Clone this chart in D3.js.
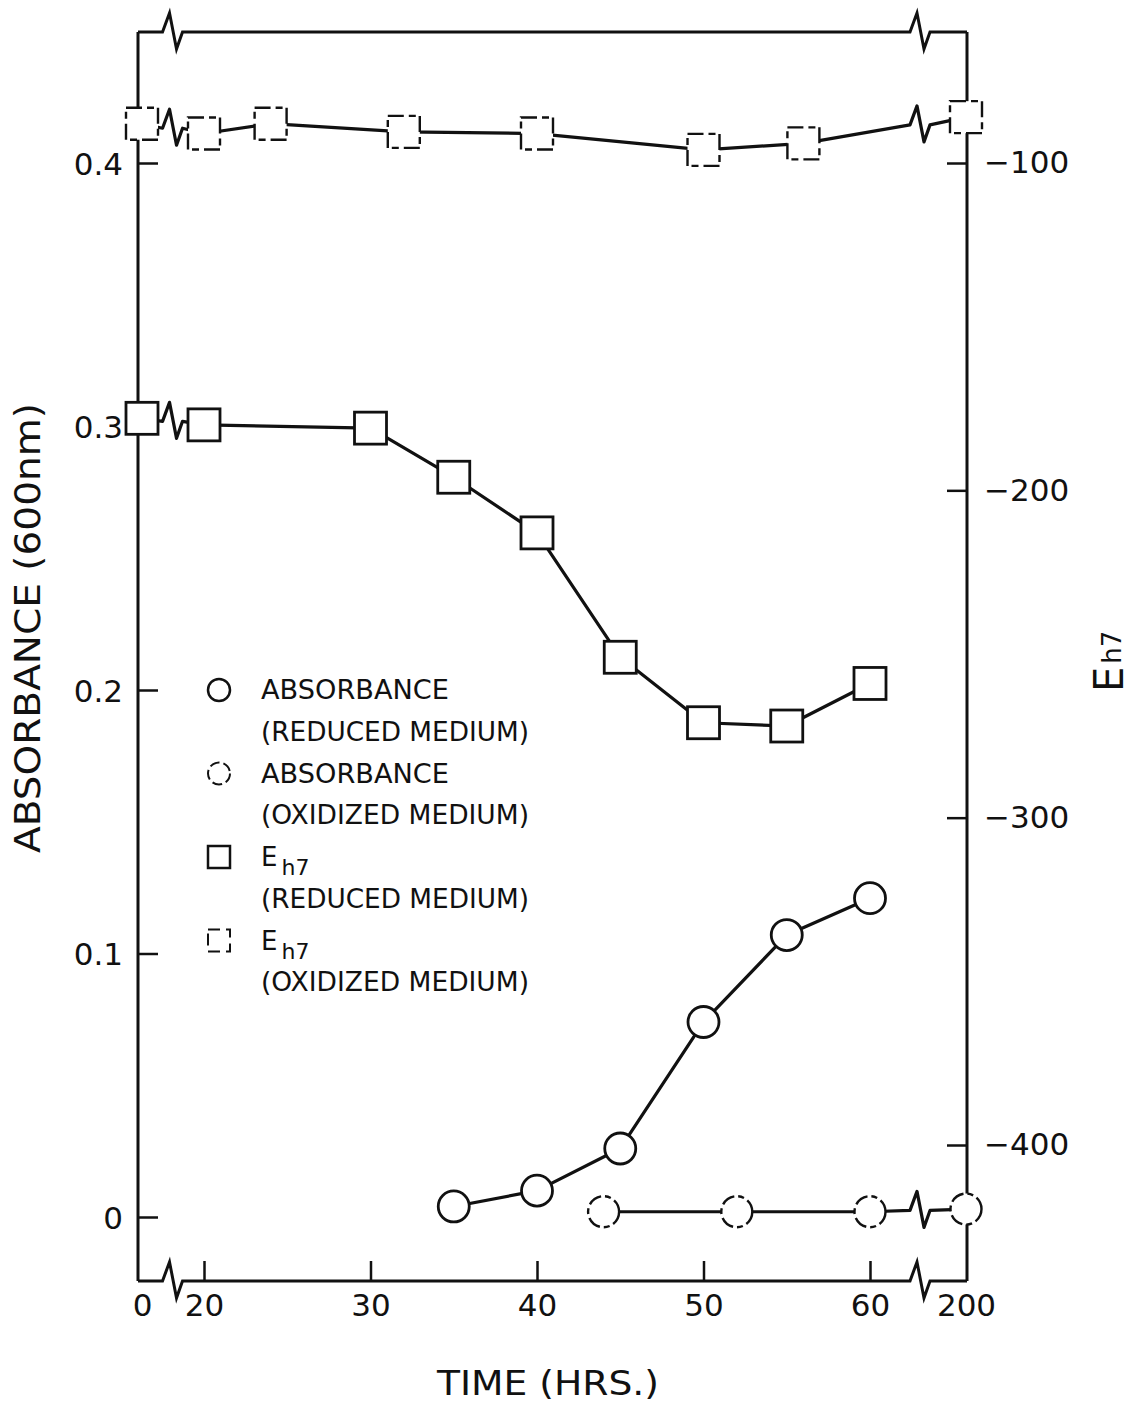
<!DOCTYPE html>
<html>
<head>
<meta charset="utf-8">
<script src="https://cdn.jsdelivr.net/npm/d3@7"></script>
<style>
  html, body { margin: 0; padding: 0; background: #fff; }
  svg { display: block; }
  text { font-family: "DejaVu Sans", "Liberation Sans", sans-serif; fill: #111; }
</style>
</head>
<body>
<svg id="chart" width="1136" height="1402"></svg>
<script>
// ---------- data ----------
const ehReducedTime   = [0, 20, 30, 35, 40, 45, 50, 55, 60];
const ehReducedValue  = [-178, -180, -181, -196, -213, -251, -271, -272, -259];
const ehOxidizedTime  = [0, 20, 24, 32, 40, 50, 56, 200];
const ehOxidizedValue = [-88, -91, -88, -90.5, -91, -96, -94, -86];
const absReducedTime  = [35, 40, 45, 50, 55, 60];
const absReducedValue = [0.004, 0.010, 0.026, 0.074, 0.107, 0.121];
const absOxidizedTime  = [44, 52, 60, 200];
const absOxidizedValue = [0.002, 0.002, 0.002, 0.003];

const xTickValues  = [0, 20, 30, 40, 50, 60, 200];
const xTickLabels  = ["0", "20", "30", "40", "50", "60", "200"];
const absTickValues = [0, 0.1, 0.2, 0.3, 0.4];
const absTickLabels = ["0", "0.1", "0.2", "0.3", "0.4"];
const ehTickValues  = [-100, -200, -300, -400];
const ehTickLabels  = ["\u2212100", "\u2212200", "\u2212300", "\u2212400"];
const axisBreakTimes = [9.2, 130];   // where the time axis is broken

const legendLabels = [
  ["ABSORBANCE", "(REDUCED MEDIUM)"],
  ["ABSORBANCE", "(OXIDIZED MEDIUM)"],
  ["E", "(REDUCED MEDIUM)"],
  ["E", "(OXIDIZED MEDIUM)"]
];

// ---------- layout ----------
const svg = d3.select("#chart");
const frameL = 138, frameR = 967, frameT = 32, frameB = 1281;
const ink = "#111";

// broken time axis: compressed 0-20 and 60-200 segments
const x = d3.scaleLinear().domain([0, 20, 60, 200]).range([142, 204, 870, 966]);
const yAbs = d3.scaleLinear().domain([0, 0.4]).range([1217, 163]);
const yEh  = d3.scaleLinear().domain([-400, -100]).range([1145, 163]);

const breakX = axisBreakTimes.map(t => x(t));

function zig(bx, y) {
  return [[bx - 8, y], [bx - 1, y - 19], [bx + 6, y + 17], [bx + 12, y]];
}

// ---------- frame ----------
const line = d3.line();
function framePts(y) {
  return [[frameL, y], ...zig(breakX[0], y), ...zig(breakX[1], y), [frameR, y]];
}
svg.append("path").attr("d", line(framePts(frameT)))
  .attr("fill", "none").attr("stroke", ink).attr("stroke-width", 3);
svg.append("path").attr("d", line(framePts(frameB)))
  .attr("fill", "none").attr("stroke", ink).attr("stroke-width", 3);
svg.append("line").attr("x1", frameL).attr("x2", frameL).attr("y1", frameT).attr("y2", frameB)
  .attr("stroke", ink).attr("stroke-width", 3);
svg.append("line").attr("x1", frameR).attr("x2", frameR).attr("y1", frameT).attr("y2", frameB)
  .attr("stroke", ink).attr("stroke-width", 3);

// ---------- axes ----------
const axL = svg.append("g").attr("transform", `translate(${frameL},0)`)
  .call(d3.axisLeft(yAbs).tickValues(absTickValues)
    .tickFormat((d, i) => absTickLabels[i]).tickSize(-20).tickPadding(15));
const axR = svg.append("g").attr("transform", `translate(${frameR},0)`)
  .call(d3.axisRight(yEh).tickValues(ehTickValues)
    .tickFormat((d, i) => ehTickLabels[i]).tickSize(-20).tickPadding(17));
const axB = svg.append("g").attr("transform", `translate(0,${frameB})`)
  .call(d3.axisBottom(x).tickValues(xTickValues)
    .tickFormat((d, i) => xTickLabels[i]).tickSize(-20).tickPadding(13));
[axL, axR, axB].forEach(g => {
  g.select(".domain").remove();
  g.selectAll(".tick line").attr("stroke", ink).attr("stroke-width", 2.5);
  g.selectAll(".tick text").attr("font-size", 31).attr("fill", ink)
    .style("font-family", "'DejaVu Sans', sans-serif");
});
axL.selectAll(".tick text").attr("dy", "0.36em");
axB.selectAll(".tick line").filter(d => d === 0 || d === 200).remove();

// axis titles
svg.append("text").attr("transform", "translate(40,628) rotate(-90)")
  .attr("text-anchor", "middle").attr("font-size", 35)
  .attr("textLength", 450).attr("lengthAdjust", "spacingAndGlyphs")
  .text("ABSORBANCE (600nm)");
svg.append("text").attr("x", 548).attr("y", 1395)
  .attr("text-anchor", "middle").attr("font-size", 34)
  .attr("textLength", 222).attr("lengthAdjust", "spacingAndGlyphs")
  .text("TIME (HRS.)");
const ehTitle = svg.append("text").attr("transform", "translate(1123,692) rotate(-90)")
  .attr("font-size", 40);
ehTitle.append("tspan").text("E");
ehTitle.append("tspan").attr("font-size", 26).attr("dx", 3).attr("dy", -2).text("h7");

// ---------- series ----------
function withBreaks(times, values, yScale) {
  const pts = [];
  for (let i = 0; i < times.length; i++) {
    if (i > 0) {
      axisBreakTimes.forEach((bt, k) => {
        if (times[i - 1] < bt && times[i] > bt) {
          const x0 = x(times[i - 1]), x1 = x(times[i]);
          const y0 = yScale(values[i - 1]), y1 = yScale(values[i]);
          const f = (breakX[k] - x0) / (x1 - x0);
          pts.push(...zig(breakX[k], y0 + f * (y1 - y0)));
        }
      });
    }
    pts.push([x(times[i]), yScale(values[i])]);
  }
  return pts;
}

function drawSeries(times, values, yScale, shape, dashed) {
  svg.append("path").attr("d", line(withBreaks(times, values, yScale)))
    .attr("fill", "none").attr("stroke", ink).attr("stroke-width", 3.2)
    .attr("stroke-linejoin", "round");
  const g = svg.append("g");
  const data = times.map((t, i) => [t, values[i]]);
  const sel = shape === "circle"
    ? g.selectAll("circle").data(data).join("circle")
        .attr("cx", d => x(d[0])).attr("cy", d => yScale(d[1])).attr("r", 15.5)
    : g.selectAll("rect").data(data).join("rect")
        .attr("x", d => x(d[0]) - 16).attr("y", d => yScale(d[1]) - 16)
        .attr("width", 32).attr("height", 32);
  sel.attr("fill", "#fff").attr("stroke", ink).attr("stroke-width", dashed ? 2.4 : 2.8);
  if (dashed) sel.attr("stroke-dasharray", shape === "circle" ? "14,4,6,4" : "16,5,7,4");
}

drawSeries(ehOxidizedTime, ehOxidizedValue, yEh, "rect", true);
drawSeries(ehReducedTime, ehReducedValue, yEh, "rect", false);
drawSeries(absReducedTime, absReducedValue, yAbs, "circle", false);
drawSeries(absOxidizedTime, absOxidizedValue, yAbs, "circle", true);

// ---------- legend ----------
const lg = svg.append("g").attr("transform", "translate(219,690)");
const rowGap = 83.5, lineGap = 41.5;
legendLabels.forEach((lab, i) => {
  const yy = i * rowGap;
  const dashed = i % 2 === 1;
  let m;
  if (i < 2) m = lg.append("circle").attr("cx", 0).attr("cy", yy).attr("r", 11);
  else m = lg.append("rect").attr("x", -11).attr("y", yy - 11).attr("width", 22).attr("height", 22);
  m.attr("fill", "none").attr("stroke", ink).attr("stroke-width", dashed ? 2 : 2.5);
  if (dashed) m.attr("stroke-dasharray", i < 2 ? "10,4" : "12,6");
  const t1 = lg.append("text").attr("x", 42).attr("y", yy).attr("dy", "0.36em").attr("font-size", 26);
  if (i < 2) {
    t1.attr("textLength", 188).attr("lengthAdjust", "spacingAndGlyphs").text(lab[0]);
  } else {
    t1.append("tspan").text(lab[0]);
    t1.append("tspan").attr("font-size", 22).attr("dx", 4).attr("dy", 9).text("h7");
  }
  lg.append("text").attr("x", 42).attr("y", yy + lineGap).attr("dy", "0.36em").attr("font-size", 26)
    .attr("textLength", 268).attr("lengthAdjust", "spacingAndGlyphs").text(lab[1]);
});
</script>
</body>
</html>
